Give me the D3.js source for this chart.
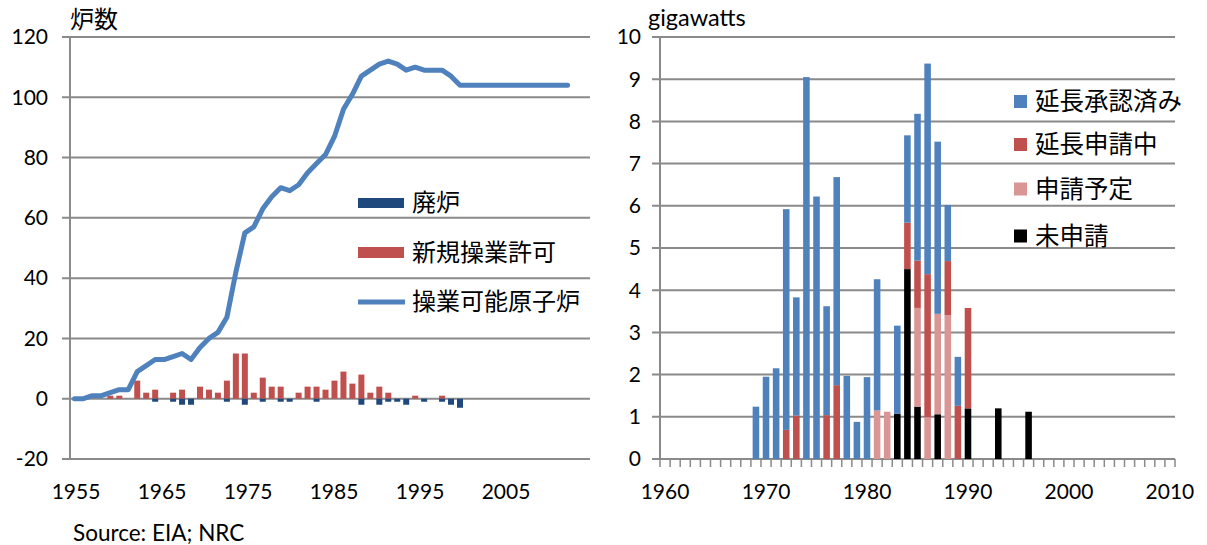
<!DOCTYPE html>
<html><head><meta charset="utf-8">
<script src="https://cdn.jsdelivr.net/npm/d3@7"></script>
<style>
body{margin:0;background:#fff;}
svg text{font-family:Lato, "Noto Sans", sans-serif;fill:#000;}
.jp{font-family:"Noto Sans CJK JP", sans-serif;}
</style></head>
<body>
<svg id="c" width="1207" height="545"></svg>
<script>
// ---------- Left chart data ----------
const years = d3.range(1955, 2013); // category axis 1955..2012
const lineYears = d3.range(1955, 2011);
const operable = [0,0,1,1,2,3,3,9,11,13,13,14,15,13,17,20,22,27,42,55,57,63,67,70,69,71,75,78,81,87,96,101,107,109,111,112,111,109,110,109,109,109,107,104,104,104,104,104,104,104,104,104,104,104,104,104];
const newYears = [1959,1960,1962,1963,1964,1966,1967,1969,1970,1971,1972,1973,1974,1975,1976,1977,1978,1980,1981,1982,1983,1984,1985,1986,1987,1988,1989,1990,1993,1996];
const newLicenses = [1,1,6,2,3,2,3,4,3,2,6,15,15,2,7,4,4,2,4,4,3,6,9,5,8,2,4,2,1,1];
const retYears = [1964,1966,1967,1968,1972,1974,1976,1978,1979,1982,1987,1989,1990,1991,1992,1994,1996,1997,1998];
const retired = [-1,-1,-2,-2,-1,-2,-1,-1,-1,-1,-2,-2,-1,-1,-2,-1,-1,-2,-3];
const leftTicks = [-20,0,20,40,60,80,100,120];
const leftXLabels = [1955,1965,1975,1985,1995,2005];
const leftLegend = ["廃炉","新規操業許可","操業可能原子炉"];

// ---------- Right chart data ----------
const gwYears = d3.range(1969, 1997);
const seriesNames = ["未申請","申請予定","延長申請中","延長承認済み"];
//               1969 70  71   72   73   74   75   76   77   78   79   80   81   82   83   84   85   86   87   88   89   90   91 92 93  94 95 96
const unapplied = [0,0,0,0,0,0,0,0,0,0,0,0,0,0,1.07,4.5,1.24,0,1.06,0,0,1.2,0,0,1.2,0,0,1.12];
const planned   = [0,0,0,0,0,0,0,0,0,0,0,0,1.15,1.12,0,0,2.34,0.99,2.38,3.41,0,0,0,0,0,0,0,0];
const applying  = [0,0,0,0.69,1.03,0,0,1.04,1.75,0,0,0,0,0,0,1.1,1.12,3.39,0,1.28,1.26,2.38,0,0,0,0,0,0];
const approved  = [1.24,1.95,2.15,5.23,2.8,9.05,6.22,2.58,4.93,1.97,0.88,1.94,3.11,0,2.09,2.07,3.48,4.99,4.08,1.33,1.16,0,0,0,0,0,0,0];
const rightYears = d3.range(1960, 2011);
const rightTicks = d3.range(0, 11);
const rightXLabels = [1960,1970,1980,1990,2000,2010];
const legendOrder = ["延長承認済み","延長申請中","申請予定","未申請"];

const colors = {"未申請":"#000000","申請予定":"#D99694","延長申請中":"#C0504D","延長承認済み":"#4F81BD"};
const gridColor = "#8a8a8a";

const svg = d3.select("#c");

// ================= LEFT =================
const L = svg.append("g");
const xL = d3.scaleBand().domain(years).range([70, 590]).paddingInner(0.33).paddingOuter(0.165);
const xLc = y => xL(y) + xL.bandwidth()/2;
const yL = d3.scaleLinear().domain([-20, 120]).range([459, 37]);
// label placement scale for the category labels (as laid out in the original)
const xLab = d3.scaleLinear().domain([1955, 2005]).range([76, 506]);

// gridlines + ticks
L.append("g").selectAll("line").data(leftTicks).join("line")
  .attr("x1", 62).attr("x2", 590)
  .attr("y1", d => yL(d)).attr("y2", d => yL(d))
  .attr("stroke", gridColor).attr("stroke-width", 2);
L.append("line").attr("x1",70).attr("x2",70).attr("y1",yL(120)).attr("y2",yL(-20)).attr("stroke",gridColor).attr("stroke-width",2);

L.append("g").selectAll("text").data(leftTicks).join("text")
  .attr("x", 48).attr("y", d => yL(d)).attr("dy","0.35em")
  .attr("text-anchor","end").attr("font-size",21).text(d => d);

L.append("g").selectAll("text").data(leftXLabels).join("text")
  .attr("x", d => xLab(d)).attr("y", 492).attr("dy","0.35em")
  .attr("text-anchor","middle").attr("font-size",21).text(d => d);

// bars
L.append("g").selectAll("rect").data(newYears.map((y,i)=>({y, v:newLicenses[i]}))).join("rect")
  .attr("x", d => xL(d.y)).attr("width", xL.bandwidth())
  .attr("y", d => yL(d.v)).attr("height", d => yL(0)-yL(d.v))
  .attr("fill", "#C0504D");
L.append("g").selectAll("rect").data(retYears.map((y,i)=>({y, v:retired[i]}))).join("rect")
  .attr("x", d => xL(d.y)).attr("width", xL.bandwidth())
  .attr("y", yL(0)).attr("height", d => yL(d.v)-yL(0))
  .attr("fill", "#1F497D");

// line
L.append("path").datum(lineYears.map((y,i)=>[y, operable[i]]))
  .attr("d", d3.line().x(d => xLc(d[0])).y(d => yL(d[1])))
  .attr("fill","none").attr("stroke","#4F81BD").attr("stroke-width",5)
  .attr("stroke-linejoin","round").attr("stroke-linecap","round");

// title
L.append("text").attr("class","jp").attr("x",70).attr("y",20).attr("dy","0.35em").attr("font-size",24).text("炉数");

// legend
const lg = L.append("g");
lg.append("rect").attr("x",358).attr("y",198).attr("width",46).attr("height",10).attr("fill","#1F497D");
lg.append("rect").attr("x",358).attr("y",247).attr("width",46).attr("height",11).attr("fill","#C0504D");
lg.append("line").attr("x1",358).attr("x2",405).attr("y1",302).attr("y2",302).attr("stroke","#4F81BD").attr("stroke-width",5);
lg.selectAll("text").data(leftLegend).join("text").attr("class","jp")
  .attr("x",412).attr("y",(d,i)=>[203,253,302][i]).attr("dy","0.35em")
  .attr("font-size",24).text(d=>d);

// source
svg.append("text").attr("x",73).attr("y",533).attr("dy","0.35em").attr("font-size",22.5).text("Source: EIA; NRC");

// ================= RIGHT =================
const R = svg.append("g");
const xR = d3.scaleBand().domain(rightYears).range([660, 1175]).paddingInner(0.35).paddingOuter(0.175);
const yR = d3.scaleLinear().domain([0, 10]).range([459, 37]);

R.append("g").selectAll("line").data(rightTicks).join("line")
  .attr("x1", 652).attr("x2", 1175)
  .attr("y1", d => yR(d)).attr("y2", d => yR(d))
  .attr("stroke", gridColor).attr("stroke-width", 2);
R.append("line").attr("x1",660).attr("x2",660).attr("y1",yR(10)).attr("y2",yR(0)).attr("stroke",gridColor).attr("stroke-width",2);
// x ticks at band boundaries
const bounds = rightYears.map(y => xR(y) - xR.step()*xR.paddingInner()/2).concat([1175]);
R.append("g").selectAll("line").data(bounds).join("line")
  .attr("x1", d=>d).attr("x2", d=>d).attr("y1", 459).attr("y2", 467)
  .attr("stroke", gridColor).attr("stroke-width", 1.5);

R.append("g").selectAll("text").data(rightTicks).join("text")
  .attr("x", 641).attr("y", d => yR(d)).attr("dy","0.35em")
  .attr("text-anchor","end").attr("font-size",21).text(d => d);
R.append("g").selectAll("text").data(rightXLabels).join("text")
  .attr("x", d => xR(d) + xR.bandwidth()/2).attr("y", 492).attr("dy","0.35em")
  .attr("text-anchor","middle").attr("font-size",21).text(d => d);

const table = gwYears.map((y,i)=>({year:y, "未申請":unapplied[i], "申請予定":planned[i], "延長申請中":applying[i], "延長承認済み":approved[i]}));
const stacked = d3.stack().keys(seriesNames)(table);
R.append("g").selectAll("g").data(stacked).join("g")
  .attr("fill", d => colors[d.key])
  .selectAll("rect").data(d => d.filter(s => s[1]-s[0] > 0)).join("rect")
  .attr("x", d => xR(d.data.year)).attr("width", xR.bandwidth())
  .attr("y", d => yR(d[1])).attr("height", d => yR(d[0]) - yR(d[1]));

R.append("text").attr("x",648).attr("y",18).attr("dy","0.35em").attr("font-size",23.5).text("gigawatts");

const rl = R.append("g");
const rly = [101.5,144.5,189,236];
rl.selectAll("rect").data(legendOrder).join("rect")
  .attr("x",1014).attr("y",(d,i)=>rly[i]-6.5).attr("width",13).attr("height",13)
  .attr("fill", d=>colors[d]);
rl.selectAll("text").data(legendOrder).join("text").attr("class","jp")
  .attr("x",1035).attr("y",(d,i)=>rly[i]).attr("dy","0.35em").attr("font-size",24.5).text(d=>d);
</script>
</body></html>
